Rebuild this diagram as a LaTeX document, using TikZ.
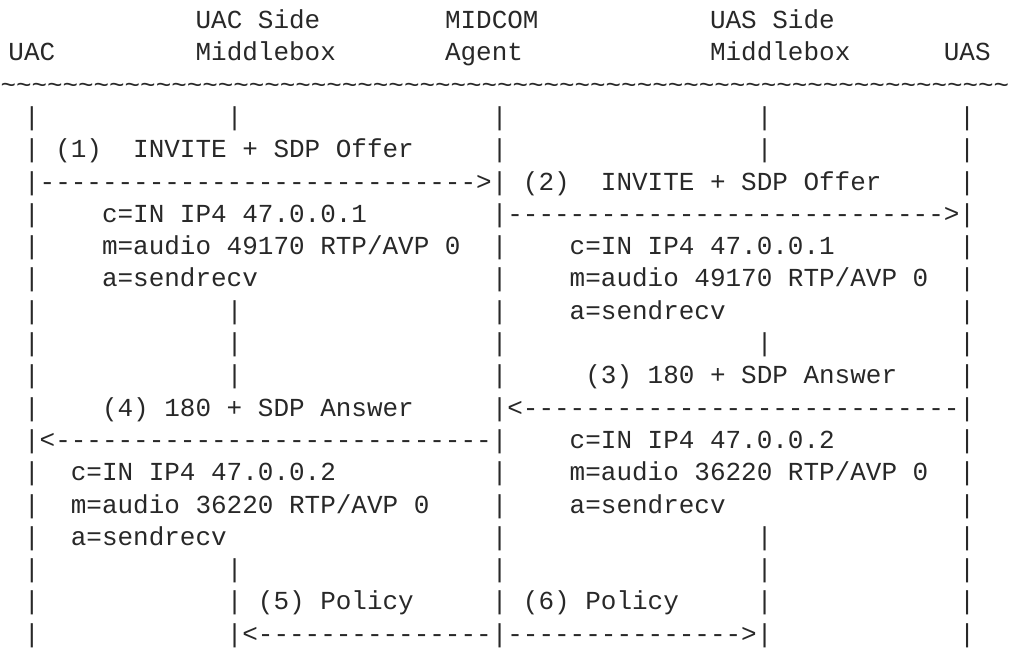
\documentclass[tikz,border=0pt]{standalone}
\usepackage{fontspec}
\setmonofont{Liberation Mono}
\definecolor{ink}{RGB}{40,40,40}
\tikzset{txt/.style={anchor=base west, inner sep=0pt, outer sep=0pt, text=ink,
  font=\ttfamily\frenchspacing\fontsize{25.98pt}{32.3pt}\selectfont},
  rule/.style={txt, font=\ttfamily\fontsize{25.86pt}{32.3pt}\selectfont}}
\newcommand\seg[4]{\node[txt] (#1) at ({8.5+15.59*(#2)},{28.5+32.3*(#3)}) {#4};}
\newcommand\tld{\char"7E}
\newcommand\tldx{\tld\tld\tld\tld\tld}
\begin{document}
\begin{tikzpicture}[x=1pt,y=-1pt]
\useasboundingbox (0,0) rectangle (1010,650);
% header
\seg{hUACside}{12}{0}{UAC Side}
\seg{hMIDCOM}{28}{0}{MIDCOM}
\seg{hUASside}{45}{0}{UAS Side}
\seg{hUAC}{0}{1}{UAC}
\seg{hMB1}{12}{1}{Middlebox}
\seg{hAgent}{28}{1}{Agent}
\seg{hMB2}{45}{1}{Middlebox}
\seg{hUAS}{60}{1}{UAS}
\node[rule] (tildes) at (0.6,{28.5+32.3*2}) {\tldx\tldx\tldx\tldx\tldx\tldx\tldx\tldx\tldx\tldx\tldx\tldx\tldx};
% lifelines
\foreach \r/\cs in {3/{1,14,31,48,61}, 4/{1,31,48,61}, 5/{1,31,61}, 6/{1,31,61},
  7/{1,31,61}, 8/{1,31,61}, 9/{1,14,31,61}, 10/{1,14,31,48,61}, 11/{1,14,31,61},
  12/{1,31,61}, 13/{1,31,61}, 14/{1,31,61}, 15/{1,31,61}, 16/{1,31,48,61},
  17/{1,14,31,48,61}, 18/{1,14,31,48,61}, 19/{1,14,31,48,61}}{
  \foreach \c in \cs {\seg{p-\r-\c}{\c}{\r}{|}}
}
% (1)
\seg{n1}{3}{4}{(1)}
\seg{m1}{8}{4}{INVITE + SDP Offer}
\seg{a1}{2}{5}{---------------------------->}
\seg{s1c}{6}{6}{c=IN IP4 47.0.0.1}
\seg{s1m}{6}{7}{m=audio 49170 RTP/AVP 0}
\seg{s1a}{6}{8}{a=sendrecv}
% (2)
\seg{n2}{33}{5}{(2)}
\seg{m2}{38}{5}{INVITE + SDP Offer}
\seg{a2}{32}{6}{---------------------------->}
\seg{s2c}{36}{7}{c=IN IP4 47.0.0.1}
\seg{s2m}{36}{8}{m=audio 49170 RTP/AVP 0}
\seg{s2a}{36}{9}{a=sendrecv}
% (3)
\seg{m3}{37}{11}{(3) 180 + SDP Answer}
\seg{a3}{32}{12}{<----------------------------}
\seg{s3c}{36}{13}{c=IN IP4 47.0.0.2}
\seg{s3m}{36}{14}{m=audio 36220 RTP/AVP 0}
\seg{s3a}{36}{15}{a=sendrecv}
% (4)
\seg{m4}{6}{12}{(4) 180 + SDP Answer}
\seg{a4}{2}{13}{<----------------------------}
\seg{s4c}{4}{14}{c=IN IP4 47.0.0.2}
\seg{s4m}{4}{15}{m=audio 36220 RTP/AVP 0}
\seg{s4a}{4}{16}{a=sendrecv}
% (5) (6)
\seg{m5}{16}{18}{(5) Policy}
\seg{m6}{33}{18}{(6) Policy}
\seg{a5}{15}{19}{<---------------}
\seg{a6}{32}{19}{--------------->}
\end{tikzpicture}
\end{document}
